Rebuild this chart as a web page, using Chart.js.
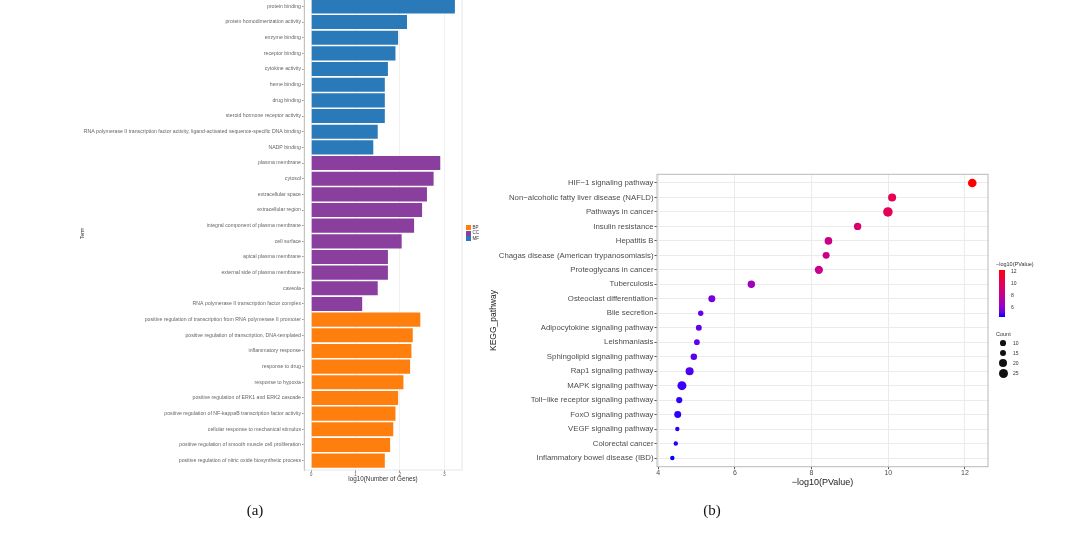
<!DOCTYPE html>
<html>
<head>
<meta charset="utf-8">
<script src="https://cdn.jsdelivr.net/npm/chart.js@4/dist/chart.umd.min.js"></script>
<style>
  body { margin: 0; width: 1080px; height: 535px; overflow: hidden; background: #fff; position: relative;
         font-family: "Liberation Sans", Arial, sans-serif; }
  #chartA { position: absolute; left: 0; top: -20px; }
  #chartB { position: absolute; left: 480px; top: 160px; }
  .cap { position: absolute; transform: translate(-50%, -50%); font-family: "Liberation Serif", "Times New Roman", serif;
         font-size: 15px; color: #111; }
  .leg { position: absolute; color: #333; white-space: nowrap; }
</style>
</head>
<body>
<canvas id="chartA" width="540" height="525"></canvas>
<canvas id="chartB" width="600" height="340"></canvas>
<div class="cap" style="left:255px; top:510px;">(a)</div>
<div class="cap" style="left:712px; top:510px;">(b)</div>
<div id="legendA"></div>
<div id="legendB"></div>
<script>
// ---- panel (a): GO terms ----
const goTerms = [
  "protein binding", "protein homodimerization activity", "enzyme binding", "receptor binding",
  "cytokine activity", "heme binding", "drug binding", "steroid hormone receptor activity",
  "RNA polymerase II transcription factor activity, ligand-activated sequence-specific DNA binding",
  "NADP binding",
  "plasma membrane", "cytosol", "extracellular space", "extracellular region",
  "integral component of plasma membrane", "cell surface", "apical plasma membrane",
  "external side of plasma membrane", "caveola", "RNA polymerase II transcription factor complex",
  "positive regulation of transcription from RNA polymerase II promoter",
  "positive regulation of transcription, DNA-templated", "inflammatory response", "response to drug",
  "response to hypoxia", "positive regulation of ERK1 and ERK2 cascade",
  "positive regulation of NF-kappaB transcription factor activity",
  "cellular response to mechanical stimulus", "positive regulation of smooth muscle cell proliferation",
  "positive regulation of nitric oxide biosynthetic process"
];
const goValues = [
  3.24, 2.16, 1.96, 1.90, 1.73, 1.66, 1.66, 1.66, 1.50, 1.40,
  2.91, 2.76, 2.61, 2.50, 2.32, 2.04, 1.73, 1.73, 1.50, 1.15,
  2.46, 2.29, 2.26, 2.23, 2.08, 1.96, 1.90, 1.85, 1.78, 1.66
];
const goGroups = [
  "MF", "MF", "MF", "MF", "MF", "MF", "MF", "MF", "MF", "MF",
  "CC", "CC", "CC", "CC", "CC", "CC", "CC", "CC", "CC", "CC",
  "BP", "BP", "BP", "BP", "BP", "BP", "BP", "BP", "BP", "BP"
];
const goLegend = ["BP", "CC", "MF"];
const goXTicks = [0, 1, 2, 3];
const groupColors = { BP: "#ff7f0e", CC: "#8a3e9e", MF: "#2a7ab9" };

// ---- panel (b): KEGG pathways ----
const keggPathways = [
  "HIF\u22121 signaling pathway", "Non\u2212alcoholic fatty liver disease (NAFLD)", "Pathways in cancer",
  "Insulin resistance", "Hepatitis B", "Chagas disease (American trypanosomiasis)",
  "Proteoglycans in cancer", "Tuberculosis", "Osteoclast differentiation", "Bile secretion",
  "Adipocytokine signaling pathway", "Leishmaniasis", "Sphingolipid signaling pathway",
  "Rap1 signaling pathway", "MAPK signaling pathway", "Toll\u2212like receptor signaling pathway",
  "FoxO signaling pathway", "VEGF signaling pathway", "Colorectal cancer",
  "Inflammatory bowel disease (IBD)"
];
const keggLogP = [12.19, 10.10, 9.99, 9.20, 8.44, 8.38, 8.19, 6.43, 5.40, 5.11,
                  5.06, 5.01, 4.93, 4.82, 4.62, 4.55, 4.51, 4.50, 4.46, 4.37];
const keggCount = [23, 20, 28, 17, 18, 15, 21, 17, 15, 9,
                   11, 10, 13, 20, 25, 12, 15, 6, 6, 6];
const keggXTicks = [4, 6, 8, 10, 12];
const colorTicks = [12, 10, 8, 6];
const countTicks = [10, 15, 20, 25];

Chart.defaults.font.family = '"Liberation Sans", Arial, sans-serif';

function sizeOf(count) { return 0.9 * Math.sqrt(count); }

// blue -> red gradient in Lab space, like ggplot's scale_colour_gradient
function lin(c) { c /= 255; return c <= 0.04045 ? c / 12.92 : Math.pow((c + 0.055) / 1.055, 2.4); }
function gam(c) { c = c <= 0.0031308 ? 12.92 * c : 1.055 * Math.pow(c, 1 / 2.4) - 0.055; return Math.round(Math.max(0, Math.min(1, c)) * 255); }
function toLab(rgb) {
  const R = lin(rgb[0]), G = lin(rgb[1]), B = lin(rgb[2]);
  const x = (0.4124 * R + 0.3576 * G + 0.1805 * B) / 0.95047;
  const y = 0.2126 * R + 0.7152 * G + 0.0722 * B;
  const z = (0.0193 * R + 0.1192 * G + 0.9505 * B) / 1.08883;
  const f = t => t > 0.008856 ? Math.cbrt(t) : 7.787 * t + 16 / 116;
  return [116 * f(y) - 16, 500 * (f(x) - f(y)), 200 * (f(y) - f(z))];
}
function fromLab(lab) {
  const fy = (lab[0] + 16) / 116, fx = fy + lab[1] / 500, fz = fy - lab[2] / 200;
  const fi = t => t * t * t > 0.008856 ? t * t * t : (t - 16 / 116) / 7.787;
  const x = fi(fx) * 0.95047, y = fi(fy), z = fi(fz) * 1.08883;
  const R = 3.2406 * x - 1.5372 * y - 0.4986 * z;
  const G = -0.9689 * x + 1.8758 * y + 0.0415 * z;
  const B = 0.0557 * x - 0.2040 * y + 1.0570 * z;
  return "rgb(" + gam(R) + "," + gam(G) + "," + gam(B) + ")";
}
const labLow = toLab([0, 0, 255]), labHigh = toLab([255, 0, 0]);
const pMin = Math.min(...keggLogP), pMax = Math.max(...keggLogP);
function colorOf(v) {
  const t = (v - pMin) / (pMax - pMin);
  return fromLab(labLow.map((l, k) => l + (labHigh[k] - l) * t));
}

// draws the panel frame
const panelBorder = {
  id: "panelBorder",
  afterDraw(chart, args, opts) {
    const { ctx, chartArea: a } = chart;
    ctx.save();
    ctx.strokeStyle = opts.color;
    ctx.lineWidth = 1;
    ctx.strokeRect(a.left, a.top, a.right - a.left, a.bottom - a.top);
    ctx.restore();
  }
};

// Chart (a)
new Chart(document.getElementById("chartA"), {
  type: "bar",
  data: {
    datasets: [{
      data: goValues.map((v, i) => ({ x: v, y: i })),
      backgroundColor: goGroups.map(g => groupColors[g]),
      borderWidth: 0,
      barPercentage: 0.9,
      categoryPercentage: 1
    }]
  },
  options: {
    indexAxis: "y",
    responsive: false,
    animation: false,
    layout: { padding: { top: 17, right: 78, bottom: 22.2, left: 0 } },
    plugins: { legend: { display: false }, tooltip: { enabled: false }, panelBorder: { color: "#e6e6e6" } },
    scales: {
      x: {
        type: "linear", min: -0.162, max: 3.40,
        afterBuildTicks: s => { s.ticks = goXTicks.map(v => ({ value: v })); },
        afterFit: s => { s.height = 12.8; },
        grid: { color: "#f1f1f1", tickLength: 2, tickColor: "#999" },
        border: { display: false },
        ticks: { font: { size: 4.8 }, color: "#666", padding: 0, maxRotation: 0 },
        title: { display: true, text: "log10(Number of Genes)", font: { size: 6.3 }, color: "#333", padding: 0 }
      },
      y: {
        type: "linear", reverse: true, min: -0.6, max: 29.6, offset: false,
        afterBuildTicks: s => { s.ticks = goTerms.map((t, i) => ({ value: i })); },
        afterFit: s => { s.width = 304; },
        grid: { drawOnChartArea: false, offset: false, tickLength: 2, color: "#999" },
        border: { display: true, color: "#a0a0a0" },
        ticks: { font: { size: 5.2 }, color: "#666", padding: 1, autoSkip: false, callback: v => goTerms[v] },
        title: { display: true, text: "Term", font: { size: 5 }, color: "#333", padding: { top: 80 } }
      }
    }
  },
  plugins: [panelBorder]
});

// Chart (b)
new Chart(document.getElementById("chartB"), {
  type: "bubble",
  data: {
    datasets: [{
      data: keggLogP.map((v, i) => ({ x: v, y: i, r: sizeOf(keggCount[i]) })),
      backgroundColor: keggLogP.map(colorOf),
      borderWidth: 0
    }]
  },
  options: {
    responsive: false,
    animation: false,
    layout: { padding: { top: 14.3, right: 92, bottom: 11.9, left: 0 } },
    plugins: { legend: { display: false }, tooltip: { enabled: false }, panelBorder: { color: "#b8b8b8" } },
    scales: {
      x: {
        type: "linear", min: 3.97, max: 12.6,
        afterBuildTicks: s => { s.ticks = keggXTicks.map(v => ({ value: v })); },
        afterFit: s => { s.height = 21.4; },
        grid: { color: "#ebebeb", tickLength: 2.5, tickColor: "#555" },
        border: { display: false },
        ticks: { font: { size: 7 }, color: "#4d4d4d", padding: 0, maxRotation: 0 },
        title: { display: true, text: "\u2212log10(PValue)", font: { size: 9 }, color: "#222", padding: 0 }
      },
      y: {
        type: "linear", reverse: true, min: -0.6, max: 19.6,
        afterBuildTicks: s => { s.ticks = keggPathways.map((p, i) => ({ value: i })); },
        afterFit: s => { s.width = 177; },
        grid: { color: "#ebebeb", tickLength: 2.5, tickColor: "#555" },
        border: { display: false },
        ticks: { font: { size: 7.8 }, color: "#4d4d4d", padding: 1, autoSkip: false, callback: v => keggPathways[v] },
        title: { display: true, text: "KEGG_pathway", font: { size: 8.5 }, color: "#222", padding: { top: 8.9 } }
      }
    }
  },
  plugins: [panelBorder]
});

// legend (a)
const legA = document.getElementById("legendA");
goLegend.forEach((g, i) => {
  const top = 225 + i * 5.6;
  legA.insertAdjacentHTML("beforeend",
    '<div class="leg" style="left:466px; top:' + top + 'px; width:5px; height:5px; background:' + groupColors[g] + ';"></div>' +
    '<div class="leg" style="left:472.5px; top:' + (top - 0.5) + 'px; font-size:4.5px; line-height:6px;">' + g + '</div>');
});

// legend (b): colour bar and size keys
const legB = document.getElementById("legendB");
const barTop = 270, barH = 47;
const stops = [];
for (let k = 0; k <= 10; k++) {
  const v = pMin + (pMax - pMin) * k / 10;
  stops.push(colorOf(v) + " " + (k * 10) + "%");
}
let html = '<div class="leg" style="left:996px; top:261px; font-size:5.5px; line-height:7px;">\u2212log10(PValue)</div>';
html += '<div class="leg" style="left:998.5px; top:' + barTop + 'px; width:6px; height:' + barH + 'px; background:linear-gradient(to top,' + stops.join(",") + ');"></div>';
colorTicks.forEach(v => {
  const y = barTop + (pMax - v) / (pMax - pMin) * barH;
  html += '<div class="leg" style="left:1011px; top:' + (y - 3) + 'px; font-size:5px; line-height:6px;">' + v + '</div>';
});
html += '<div class="leg" style="left:996px; top:330.5px; font-size:5.5px; line-height:7px;">Count</div>';
countTicks.forEach((c, i) => {
  const cy = 343 + i * 10, r = sizeOf(c);
  html += '<div class="leg" style="left:' + (1003 - r) + 'px; top:' + (cy - r) + 'px; width:' + (2 * r) + 'px; height:' + (2 * r) + 'px; border-radius:50%; background:#111;"></div>';
  html += '<div class="leg" style="left:1013px; top:' + (cy - 3) + 'px; font-size:5px; line-height:6px;">' + c + '</div>';
});
legB.innerHTML = html;
</script>
</body>
</html>
